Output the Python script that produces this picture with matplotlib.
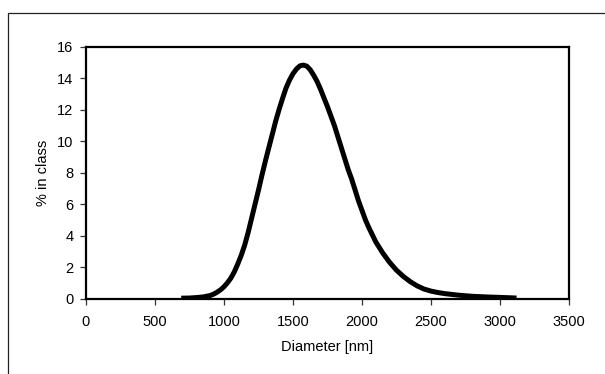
import matplotlib
matplotlib.use('Agg')
import matplotlib.pyplot as plt
import matplotlib.patches as mpatches
import numpy as np

# particle size distribution
diameter = [690, 750, 800, 850, 900, 925, 950, 975, 1000, 1025, 1050, 1075,
            1100, 1125, 1150, 1175, 1200, 1225, 1250, 1275, 1300, 1325, 1350,
            1375, 1400, 1425, 1450, 1475, 1500, 1525, 1550, 1575, 1600, 1625,
            1650, 1675, 1700, 1725, 1750, 1775, 1800, 1825, 1850, 1875, 1900,
            1925, 1950, 1975, 2000, 2025, 2050, 2075, 2100, 2150, 2200, 2250,
            2300, 2350, 2400, 2450, 2500, 2550, 2600, 2700, 2800, 2900, 3000,
            3120]
percent = [0.02, 0.03, 0.06, 0.1, 0.19, 0.28, 0.4, 0.55, 0.75, 1.0, 1.3, 1.7,
           2.2, 2.75, 3.4, 4.2, 5.1, 6.0, 6.9, 7.85, 8.75, 9.6, 10.45,
           11.3, 12.05, 12.75, 13.4, 13.9, 14.3, 14.6, 14.8, 14.85, 14.78, 14.55,
           14.2, 13.8, 13.3, 12.75, 12.2, 11.6, 11.0, 10.3, 9.6, 8.9, 8.2,
           7.6, 6.9, 6.2, 5.6, 5.0, 4.5, 4.05, 3.6, 2.9, 2.3, 1.8,
           1.4, 1.07, 0.8, 0.6, 0.47, 0.38, 0.31, 0.21, 0.14, 0.1, 0.07,
           0.03]
xticks = [0, 500, 1000, 1500, 2000, 2500, 3000, 3500]
yticks = [0, 2, 4, 6, 8, 10, 12, 14, 16]

plt.rcParams['font.family'] = ['Liberation Sans', 'DejaVu Sans']
plt.rcParams['font.size'] = 10.5

fig = plt.figure(figsize=(6.05, 3.74), dpi=100)
ax = fig.add_axes([86 / 605, 1 - 298.5 / 374, (569 - 86) / 605, (298.5 - 47) / 374])

# outer chart frame (runs off the right and bottom edges)
frame = mpatches.Rectangle((7.5 / 605, -0.1), 1.2, 1 - 13.3 / 374 + 0.1,
                           transform=fig.transFigure, fill=False,
                           edgecolor='#222222', linewidth=0.9, clip_on=False)
fig.patches.append(frame)

ax.plot(diameter, percent, color='black', linewidth=3.6,
        solid_capstyle='butt', solid_joinstyle='round')

ax.set_xlim(0, 3500)
ax.set_ylim(0, 16)
ax.set_xticks(xticks)
ax.set_yticks(yticks)
for s in ax.spines.values():
    s.set_linewidth(1.6)
ax.tick_params(direction='out', length=4, width=0.9, color='#333333')
ax.tick_params(axis='x', pad=8)
ax.tick_params(axis='y', pad=5)
ax.set_xlabel('Diameter [nm]', labelpad=8)
ax.set_ylabel('% in class', labelpad=5)

fig.savefig('out.png', dpi=100, facecolor='white')
